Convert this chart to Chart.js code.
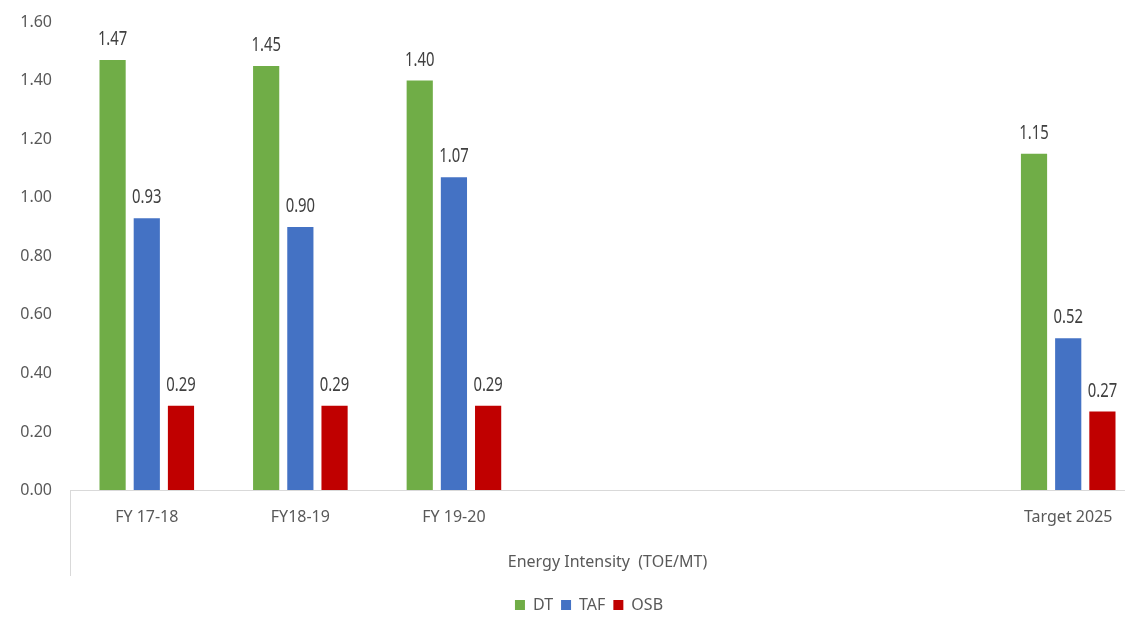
<!DOCTYPE html>
<html>
<head>
<meta charset="utf-8">
<title>Energy Intensity (TOE/MT)</title>
<script src="https://cdn.jsdelivr.net/npm/chart.js@4/dist/chart.umd.min.js"></script>
<style>
  html, body { margin: 0; padding: 0; background: #ffffff; overflow: hidden; }
  #wrap { width: 1178px; height: 619px; }
</style>
</head>
<body>
<div id="wrap"><canvas id="chart" width="1178" height="619"></canvas></div>
<script>
// Periods on the category axis (three empty slots before the target year)
const categories = ['FY 17-18', 'FY18-19', 'FY 19-20', '', '', '', 'Target 2025'];
// Energy intensity per plant, TOE/MT
const dtValues  = [1.47, 1.45, 1.40, null, null, null, 1.15];
const tafValues = [0.93, 0.90, 1.07, null, null, null, 0.52];
const osbValues = [0.29, 0.29, 0.29, null, null, null, 0.27];
const seriesNames = ['DT', 'TAF', 'OSB'];
// Value axis ticks
const yTickValues = [0.00, 0.20, 0.40, 0.60, 0.80, 1.00, 1.20, 1.40, 1.60];
const axisTitle = 'Energy Intensity  (TOE/MT)';

const TEXT = '#595959';
const FONT = '"Noto Sans", "Open Sans", sans-serif';

Chart.defaults.font.family = FONT;
Chart.defaults.font.size = 16;
Chart.defaults.color = TEXT;

// Numbers printed above every bar, in a narrow face
const valueLabels = {
  id: 'valueLabels',
  afterDatasetsDraw(chart) {
    const ctx = chart.ctx;
    chart.data.datasets.forEach((ds, di) => {
      const meta = chart.getDatasetMeta(di);
      meta.data.forEach((bar, i) => {
        const v = ds.data[i];
        if (v === null || v === undefined) return;
        ctx.save();
        ctx.translate(bar.x, bar.y - 15);
        ctx.scale(0.78, 1);
        ctx.font = '19px ' + FONT;
        ctx.fillStyle = '#404040';
        ctx.textAlign = 'center';
        ctx.textBaseline = 'alphabetic';
        ctx.fillText(v.toFixed(2), 0, 0);
        ctx.restore();
      });
    });
  }
};

// Divider at the start of the category axis, running down past the group label
const categoryDivider = {
  id: 'categoryDivider',
  afterDraw(chart) {
    const sx = chart.scales.x;
    const ctx = chart.ctx;
    ctx.save();
    ctx.strokeStyle = '#d9d9d9';
    ctx.lineWidth = 1;
    ctx.beginPath();
    const px = Math.round(sx.left) + 0.5;
    ctx.moveTo(px, sx.top);
    ctx.lineTo(px, sx.bottom - 13);
    ctx.stroke();
    ctx.restore();
  }
};

// Legend is centred on the whole canvas width, not just the padded box
const legendSpan = {
  id: 'legendSpan',
  afterLayout(chart) {
    const lg = chart.legend;
    if (!lg) return;
    lg.left = 0;
    lg.right = chart.width;
    lg.width = chart.width;
  }
};

const colors = ['#70ad47', '#4472c4', '#c00000'];
const seriesValues = [dtValues, tafValues, osbValues];

new Chart(document.getElementById('chart'), {
  type: 'bar',
  data: {
    labels: categories,
    datasets: seriesNames.map((name, i) => ({
      label: name,
      data: seriesValues[i],
      backgroundColor: colors[i],
      borderWidth: 0,
      categoryPercentage: 0.668,
      barPercentage: 0.766
    }))
  },
  options: {
    responsive: false,
    animation: false,
    devicePixelRatio: 1,
    layout: { padding: { top: 22, right: 33, bottom: -4, left: 0 } },
    plugins: {
      legend: {
        position: 'bottom',
        labels: {
          boxWidth: 10,
          boxHeight: 10,
          padding: 8,
          color: TEXT,
          font: { size: 16 }
        }
      },
      tooltip: { enabled: false }
    },
    scales: {
      x: {
        grid: { display: false, drawTicks: false },
        border: { display: true, color: '#d9d9d9', width: 1 },
        ticks: { padding: 17, maxRotation: 0, autoSkip: false, color: TEXT },
        title: {
          display: true,
          text: axisTitle,
          color: TEXT,
          font: { size: 16 },
          padding: { top: 9, bottom: 17 }
        }
      },
      y: {
        min: 0,
        max: 1.6,
        grid: {
          display: true,
          drawOnChartArea: false,
          drawTicks: true,
          tickLength: 14,
          tickColor: 'rgba(0,0,0,0)'
        },
        border: { display: false },
        afterBuildTicks(scale) {
          scale.ticks = yTickValues.map(v => ({ value: v }));
        },
        afterFit(scale) { scale.width = 70; },
        ticks: {
          padding: 4,
          color: TEXT,
          callback: v => Number(v).toFixed(2)
        }
      }
    }
  },
  plugins: [valueLabels, categoryDivider, legendSpan]
});
</script>
</body>
</html>
